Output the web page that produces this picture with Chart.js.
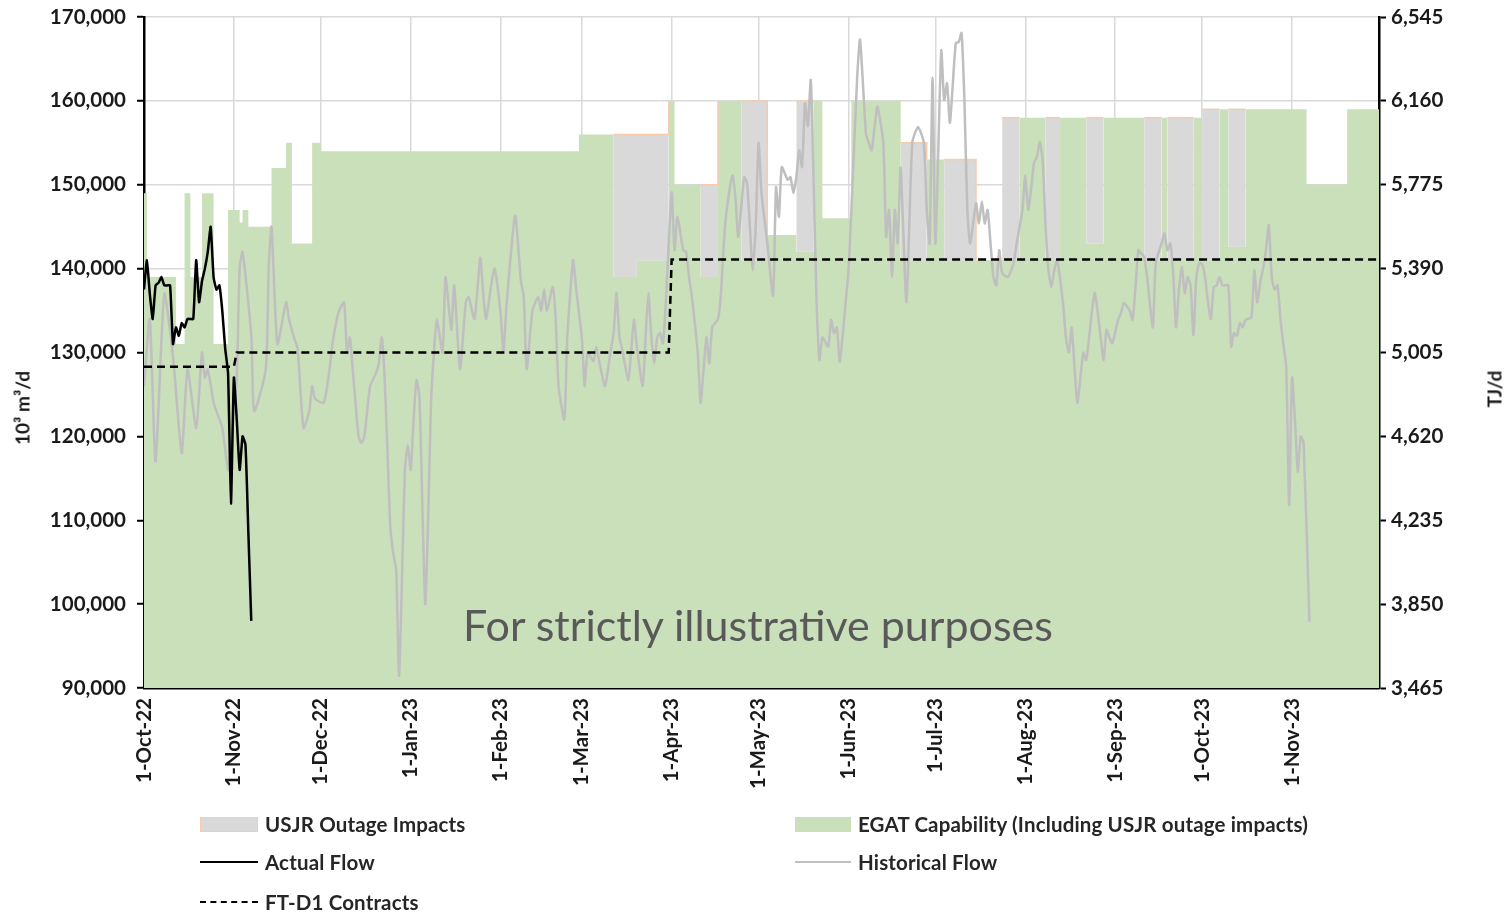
<!DOCTYPE html>
<html>
<head>
<meta charset="utf-8">
<script src="https://cdn.jsdelivr.net/npm/chart.js@4.4.0/dist/chart.umd.min.js"></script>
<style>
  body { margin: 0; background: #fff; font-family: Lato, 'Open Sans', sans-serif; }
  #wrap { position: relative; width: 1509px; height: 913px; overflow: hidden; }
  #chart { position: absolute; left: 0; top: 0; }
  .axtitle { position: absolute; font-weight: bold; font-size: 19px; color: #1a1a1a; white-space: nowrap;
             transform: translate(-50%, -50%) rotate(-90deg); }
  .lg { position: absolute; display: flex; align-items: center; gap: 7px; font-weight: bold; font-size: 20.5px; letter-spacing: 0.15px; color: #262626; white-space: nowrap; transform: translateY(-50%); }
  .sw { display: inline-block; box-sizing: border-box; }
  .watermark { position: absolute; left: 758px; top: 624px; transform: translate(-50%, -50%); font-size: 43px; color: #595959; white-space: nowrap; }
</style>
</head>
<body>
<div id="wrap">
  <canvas id="chart" width="1509" height="913"></canvas>
  <div class="axtitle" style="left:22px;top:408px">10³ m³/d</div>
  <div class="axtitle" style="left:1494px;top:389px">TJ/d</div>
  <div class="watermark">For strictly illustrative purposes</div>

  <div class="lg" style="left:200px;top:824px"><span class="sw" style="width:58px;height:15px;background:#d9d9d9;border:1.5px solid #f8cbad"></span><span>USJR Outage Impacts</span></div>
  <div class="lg" style="left:795px;top:824px"><span class="sw" style="width:56px;height:15px;background:#c9e0bb"></span><span>EGAT Capability (Including USJR outage impacts)</span></div>
  <div class="lg" style="left:200px;top:862px"><span class="sw" style="width:58px;height:0;border-top:2.5px solid #000"></span><span>Actual Flow</span></div>
  <div class="lg" style="left:795px;top:862px"><span class="sw" style="width:56px;height:0;border-top:2.5px solid #bfbfbf"></span><span>Historical Flow</span></div>
  <div class="lg" style="left:200px;top:902px"><span class="sw" style="width:58px;height:0;border-top:2.5px dashed #000"></span><span>FT-D1 Contracts</span></div>
</div>

<script>
// days counted from 1-Oct-22
const monthDay = [0, 31, 61, 92, 123, 151, 182, 212, 243, 273, 304, 335, 365, 396];
const monthLabel = ['1-Oct-22', '1-Nov-22', '1-Dec-22', '1-Jan-23', '1-Feb-23', '1-Mar-23', '1-Apr-23',
  '1-May-23', '1-Jun-23', '1-Jul-23', '1-Aug-23', '1-Sep-23', '1-Oct-23', '1-Nov-23'];

// capability steps (value holds from that day until the next one)
const capDay = [0, 1, 11, 14, 16, 20, 24, 29, 33, 34, 36, 44, 49, 51, 58, 61, 150, 162, 170, 181, 183, 192, 198,
  206, 215, 225, 231, 234, 244, 261, 270, 276, 287, 296, 302, 311, 316, 325, 331, 345, 351, 353, 362, 365, 371,
  374, 380, 401, 415, 426];
const egatCap = [149000, 139000, 131000, 149000, 139000, 149000, 131000, 147000, 145500, 147000, 145000, 152000,
  155000, 143000, 155000, 154000, 156000, 139000, 141000, 160000, 150000, 139000, 160000, 141000, 144000, 142000,
  160000, 146000, 160000, 141000, 153000, 141000, 141000, 141000, 158000, 141000, 158000, 143000, 158000, 141000,
  158000, 141000, 158000, 141000, 159000, 142600, 159000, 150000, 159000, 159000];
const usjrOutage = [0, 0, 0, 0, 0, 0, 0, 0, 0, 0, 0, 0, 0, 0, 0, 0, 0, 17000, 15000, 0, 0, 11000, 0, 19000, 0,
  18000, 0, 0, 0, 14000, 0, 12000, 0, 17000, 0, 17000, 0, 15000, 0, 17000, 0, 17000, 0, 18000, 0, 16400, 0, 0, 0, 0];

const actualDay = [0, 1, 2, 3, 4, 5, 6, 7, 8, 9, 10, 11, 12, 13, 14, 15, 16, 17, 18, 19, 20, 21, 22, 23, 24, 25,
  26, 27, 28, 29, 30, 31, 32, 33, 34, 35, 36, 37];
const actualFlow = [137500, 141000, 137000, 134000, 138000, 138300, 139000, 138000, 138000, 138000, 131000, 133000,
  132000, 133500, 133000, 134000, 134000, 134000, 141000, 136000, 138500, 140000, 142000, 145000, 139000, 137500,
  138000, 135000, 130500, 127500, 112000, 127000, 122000, 116000, 120000, 119000, 108500, 98000];

const histDay = [0, 2, 4, 7, 10, 13, 15, 18, 20, 21, 22, 24, 25, 27, 29, 30, 31, 32, 33, 34, 37, 38, 42, 43, 44,
  46, 49, 50, 52, 53, 55, 57, 58, 59, 62, 64, 65, 67, 69, 70, 71, 72, 74, 75, 76, 78, 80, 81, 82, 83, 84, 85, 86,
  87, 88, 90, 91, 92, 93, 94, 95, 96, 97, 98, 99, 100, 101, 103, 104, 106, 107, 109, 111, 112, 114, 116, 117, 118,
  120, 121, 123, 124, 125, 128, 130, 131, 132, 134, 136, 137, 138, 139, 141, 142, 143, 145, 146, 148, 149, 151,
  152, 153, 155, 156, 157, 159, 161, 162, 163, 164, 165, 167, 168, 169, 170, 172, 173, 174, 175, 176, 177, 178,
  179, 180, 182, 183, 184, 186, 187, 188, 189, 191, 192, 193, 194, 195, 196, 198, 199, 200, 201, 203, 204, 205,
  207, 208, 209, 210, 211, 212, 213, 215, 217, 218, 219, 220, 222, 223, 224, 225, 226, 227, 228, 229, 230, 231,
  232, 233, 234, 236, 237, 238, 239, 240, 242, 243, 244, 246, 247, 249, 250, 251, 252, 253, 255, 256, 257, 258,
  259, 260, 261, 263, 265, 267, 269, 270, 271, 272, 273, 275, 276, 277, 278, 280, 281, 282, 283, 284, 285, 287,
  288, 289, 290, 291, 292, 293, 294, 295, 296, 298, 300, 301, 303, 304, 305, 306, 307, 308, 309, 310, 311, 312,
  313, 314, 315, 317, 318, 319, 320, 321, 322, 324, 325, 326, 327, 328, 330, 331, 332, 333, 334, 336, 337, 338,
  340, 341, 342, 343, 344, 345, 346, 348, 349, 351, 352, 353, 354, 355, 356, 357, 358, 359, 360, 361, 362, 363,
  364, 365, 366, 367, 368, 369, 370, 371, 372, 374, 375, 376, 377, 378, 379, 380, 382, 383, 384, 385, 386, 387,
  388, 389, 390, 391, 392, 393, 394, 395, 396, 397, 398, 399, 400, 402];
const histFlow = [126000, 134000, 117000, 137000, 129500, 118000, 128000, 121000, 130000, 127000, 128000, 124000,
  123000, 121000, 116000, 118500, 123000, 127000, 140000, 142000, 132000, 123000, 128000, 140000, 145000, 131000,
  136000, 134000, 131500, 130500, 121000, 123000, 126000, 124500, 124000, 128000, 131000, 134700, 136000, 130000,
  131800, 128000, 120000, 119200, 120000, 126000, 127500, 128700, 131800, 127000, 118000, 109000, 106000, 104000,
  91500, 116000, 119000, 116000, 122000, 126700, 124700, 112000, 100000, 110000, 124000, 130000, 134000, 130000,
  139000, 132700, 138000, 128000, 136000, 136600, 134000, 141300, 137000, 134000, 138600, 140000, 134700, 130000,
  135400, 146300, 138600, 136600, 128000, 135000, 136600, 135000, 137500, 135000, 137800, 134000, 126000, 122000,
  131800, 141000, 137800, 131800, 126000, 130000, 129000, 130700, 129000, 126000, 130300, 132300, 137100, 131800,
  130300, 126700, 130000, 133900, 130700, 126000, 131800, 137100, 131800, 128700, 131800, 132300, 131100, 135900,
  149100, 142200, 146200, 142200, 142000, 139000, 136600, 130000, 124000, 127900, 131800, 128700, 133000, 134000,
  137000, 143000, 147000, 151100, 148500, 143800, 150900, 150200, 145000, 139800, 145000, 155000, 149000, 143000,
  136800, 149700, 146200, 152100, 150600, 150900, 149000, 150900, 154100, 152100, 159700, 157000, 162500, 150000,
  136000, 129100, 131800, 130700, 133900, 132300, 133000, 128900, 135900, 139800, 147000, 162800, 167300, 156200,
  155000, 154100, 156900, 159300, 155000, 143800, 147000, 139000, 147000, 143000, 152000, 136000, 155000, 156900,
  155000, 147000, 143000, 162800, 143000, 166000, 160100, 162100, 157400, 166900, 167000, 168100, 160000, 147000,
  143000, 147800, 145400, 148000, 145400, 147000, 143000, 139000, 138000, 142200, 139500, 139000, 140700, 143000,
  147000, 151100, 147000, 149500, 152600, 153300, 155100, 152800, 145000, 139800, 137800, 139800, 141000, 135900,
  131800, 130000, 133000, 128000, 124000, 130000, 129100, 131800, 135000, 137100, 131800, 129100, 132700, 131800,
  131100, 133900, 134700, 135900, 135000, 133900, 137800, 142200, 141800, 141400, 139000, 133000, 140700, 143000,
  144200, 142200, 143000, 139500, 133000, 137500, 140200, 137100, 139000, 138000, 132100, 139000, 140700, 140500,
  139000, 136000, 134000, 137800, 138000, 139000, 138000, 138000, 130700, 132300, 132000, 133500, 133000, 133900,
  134200, 139800, 136000, 138300, 140000, 142200, 145200, 139000, 137500, 138000, 134000, 131000, 128300, 111800,
  127000, 122000, 115800, 120000, 119200, 97900];

const ftDay = [0, 31, 32, 181, 182, 426];
const ftContracts = [128300, 128300, 130000, 130000, 141100, 141100];

const pts = (xs, ys) => xs.map((x, i) => ({ x: x, y: ys[i] }));
const tickFont = { family: 'Lato', size: 20.5, weight: 'bold' };

new Chart(document.getElementById('chart'), {
  type: 'line',
  data: {
    datasets: [
      {
        label: 'USJR Outage Impacts',
        data: pts(capDay, egatCap.map((v, i) => v + usjrOutage[i])),
        stepped: true,
        backgroundColor: '#d9d9d9',
        borderWidth: 1.5,
        borderColor: '#f8cbad',
        segment: { borderColor: c => usjrOutage[c.p0DataIndex] > 0 ? '#f8cbad' : 'rgba(0,0,0,0)' },
        fill: '+1',
        pointRadius: 0,
        order: 4
      },
      {
        label: 'EGAT Capability (Including USJR outage impacts)',
        data: pts(capDay, egatCap),
        stepped: true,
        backgroundColor: '#c9e0bb',
        borderColor: '#c9e0bb',
        borderWidth: 0,
        fill: 'start',
        pointRadius: 0,
        order: 5
      },
      {
        label: 'Actual Flow',
        data: pts(actualDay, actualFlow),
        borderColor: '#000',
        borderWidth: 2.5,
        tension: 0.15,
        pointRadius: 0,
        fill: false,
        order: 1
      },
      {
        label: 'Historical Flow',
        data: pts(histDay, histFlow),
        borderColor: '#bfbfbf',
        borderWidth: 2.5,
        tension: 0.2,
        pointRadius: 0,
        fill: false,
        order: 3
      },
      {
        label: 'FT-D1 Contracts',
        data: pts(ftDay, ftContracts),
        borderColor: '#000',
        borderWidth: 2.5,
        borderDash: [8, 5],
        pointRadius: 0,
        fill: false,
        order: 2
      }
    ]
  },
  options: {
    responsive: false,
    animation: false,
    layout: { padding: { top: 17, left: 0, right: 0, bottom: 0 } },
    plugins: { legend: { display: false }, tooltip: { enabled: false } },
    scales: {
      x: {
        type: 'linear',
        min: 0,
        max: 426,
        afterBuildTicks: s => { s.ticks = monthDay.map(v => ({ value: v })); },
        afterFit: s => { s.height = 225; },
        ticks: {
          autoSkip: false,
          maxRotation: 90,
          minRotation: 90,
          padding: 10,
          color: '#1a1a1a',
          font: tickFont,
          callback: v => monthLabel[monthDay.indexOf(v)]
        },
        grid: { color: '#d9d9d9', lineWidth: 1.5, drawTicks: false },
        border: { color: '#000', width: 2.5 }
      },
      y: {
        position: 'left',
        min: 90000,
        max: 170000,
        afterFit: s => { s.width = 144; s.paddingTop = 0; s.paddingBottom = 0; },
        ticks: {
          stepSize: 10000,
          padding: 11,
          color: '#1a1a1a',
          font: tickFont,
          callback: v => v.toLocaleString('en-US')
        },
        grid: { color: '#d9d9d9', lineWidth: 1.5, tickColor: '#000', tickLength: 7, tickWidth: 2 },
        border: { color: '#000', width: 2.5 }
      },
      y1: {
        position: 'right',
        min: 3465,
        max: 6545,
        afterFit: s => { s.width = 130; s.paddingTop = 0; s.paddingBottom = 0; },
        ticks: {
          stepSize: 385,
          padding: 5,
          color: '#1a1a1a',
          font: tickFont,
          callback: v => v.toLocaleString('en-US')
        },
        grid: { drawOnChartArea: false, tickColor: '#000', tickLength: 7, tickWidth: 2 },
        border: { color: '#000', width: 2.5 }
      }
    }
  }
});
</script>
</body>
</html>
